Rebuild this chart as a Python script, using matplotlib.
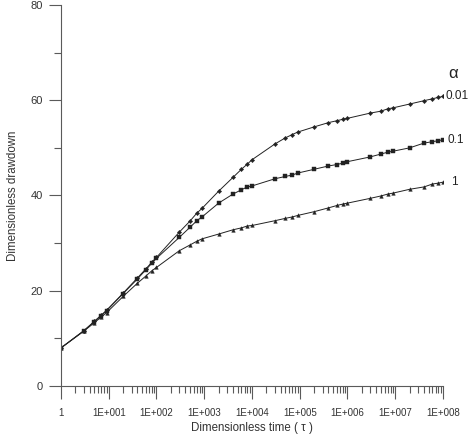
import matplotlib
matplotlib.use("Agg")
import matplotlib.pyplot as plt
from matplotlib.ticker import LogLocator, FixedLocator, NullFormatter

plt.rcParams["font.family"] = ["Liberation Sans", "DejaVu Sans"]

# dimensionless time samples (same for all three curves)
tau = [1, 3, 5, 7, 9, 20, 40, 60, 80, 100,
       300, 500, 700, 900, 2e3, 4e3, 6e3, 8e3, 1e4,
       3e4, 5e4, 7e4, 9e4, 2e5, 4e5, 6e5, 8e5, 1e6,
       3e6, 5e6, 7e6, 9e6, 2e7, 4e7, 6e7, 8e7, 1e8]

s_001 = [8.0, 11.6, 13.6, 14.9, 15.9, 19.5, 22.7, 24.6, 26.0, 27.0,
         32.3, 34.6, 36.3, 37.3, 40.9, 43.8, 45.5, 46.6, 47.5,
         50.8, 52.1, 52.8, 53.3, 54.4, 55.3, 55.7, 56.0, 56.2,
         57.3, 57.7, 58.2, 58.4, 59.2, 59.9, 60.3, 60.6, 60.8]

s_01 = [8.0, 11.6, 13.5, 14.8, 15.8, 19.4, 22.5, 24.4, 25.8, 26.8,
        31.2, 33.3, 34.7, 35.5, 38.4, 40.3, 41.2, 41.8, 42.0,
        43.5, 44.0, 44.3, 44.7, 45.5, 46.2, 46.5, 46.8, 47.1,
        48.1, 48.7, 49.1, 49.3, 50.0, 51.0, 51.3, 51.5, 51.7]

s_1 = [8.0, 11.5, 13.3, 14.5, 15.4, 18.8, 21.6, 23.1, 24.2, 24.9,
       28.4, 29.6, 30.4, 30.9, 31.9, 32.8, 33.2, 33.6, 33.7,
       34.7, 35.2, 35.5, 35.8, 36.6, 37.4, 37.9, 38.2, 38.4,
       39.4, 39.9, 40.3, 40.5, 41.3, 41.8, 42.4, 42.6, 42.8]

alpha_labels = ["0.01", "0.1", "1"]
xtick_vals = [1, 1e1, 1e2, 1e3, 1e4, 1e5, 1e6, 1e7, 1e8]
xtick_labels = ["1", "1E+001", "1E+002", "1E+003", "1E+004",
                "1E+005", "1E+006", "1E+007", "1E+008"]

axis_col = "#5a5a5a"
line_col = "#222222"
text_col = "#333333"

fig = plt.figure(figsize=(4.71, 4.40), dpi=100)
ax = fig.add_axes([0.1295, 0.1227, 0.811, 0.866])

series = [(s_001, "D", 2.2), (s_01, "s", 2.6), (s_1, "^", 2.6)]
for ys, mk, ms in series:
    ax.plot(tau, ys, color=line_col, lw=0.7, marker=mk, ms=ms,
            mfc=line_col, mec=line_col, mew=0.3)

ax.set_xscale("log")
ax.set_xlim(1, 1e8)
ax.set_ylim(0, 80)

ax.xaxis.set_major_locator(FixedLocator(xtick_vals))
ax.set_xticklabels(xtick_labels)
ax.xaxis.set_minor_locator(LogLocator(base=10, subs=range(2, 10), numticks=20))
ax.xaxis.set_minor_formatter(NullFormatter())
ax.set_yticks([0, 20, 40, 60, 80])
ax.yaxis.set_minor_locator(FixedLocator([10, 30, 50, 70]))

for sp in ["top", "right"]:
    ax.spines[sp].set_visible(False)
for sp in ["left", "bottom"]:
    ax.spines[sp].set_color(axis_col)
    ax.spines[sp].set_linewidth(0.8)

ax.tick_params(axis="both", which="major", direction="out", length=9,
               width=0.8, color=axis_col, labelcolor=text_col)
ax.tick_params(axis="both", which="minor", direction="out", length=5,
               width=0.8, color=axis_col)
ax.tick_params(axis="x", which="major", pad=7, labelsize=7)
ax.tick_params(axis="y", which="major", pad=4, labelsize=8)

ax.set_xlabel("Dimensionless time ( \u03c4 )", fontsize=8.3, color=text_col, labelpad=3)
ax.set_ylabel("Dimensionless drawdown", fontsize=8.3, color=text_col, labelpad=8)

# curve labels at the right end
offsets = [1.8, 3.6, 5.8]
for ys, lab, dx in zip([s_001, s_01, s_1], alpha_labels, offsets):
    ax.annotate(lab, xy=(tau[-1], ys[-1]), xytext=(dx, 0),
                textcoords="offset points", fontsize=8.5, color=line_col,
                ha="left", va="center", annotation_clip=False)
ax.annotate("\u03b1", xy=(tau[-1], s_001[-1]), xytext=(4, 16.5),
            textcoords="offset points", fontsize=12, color=line_col,
            ha="left", va="center", annotation_clip=False)

fig.savefig("out.png", dpi=100)
